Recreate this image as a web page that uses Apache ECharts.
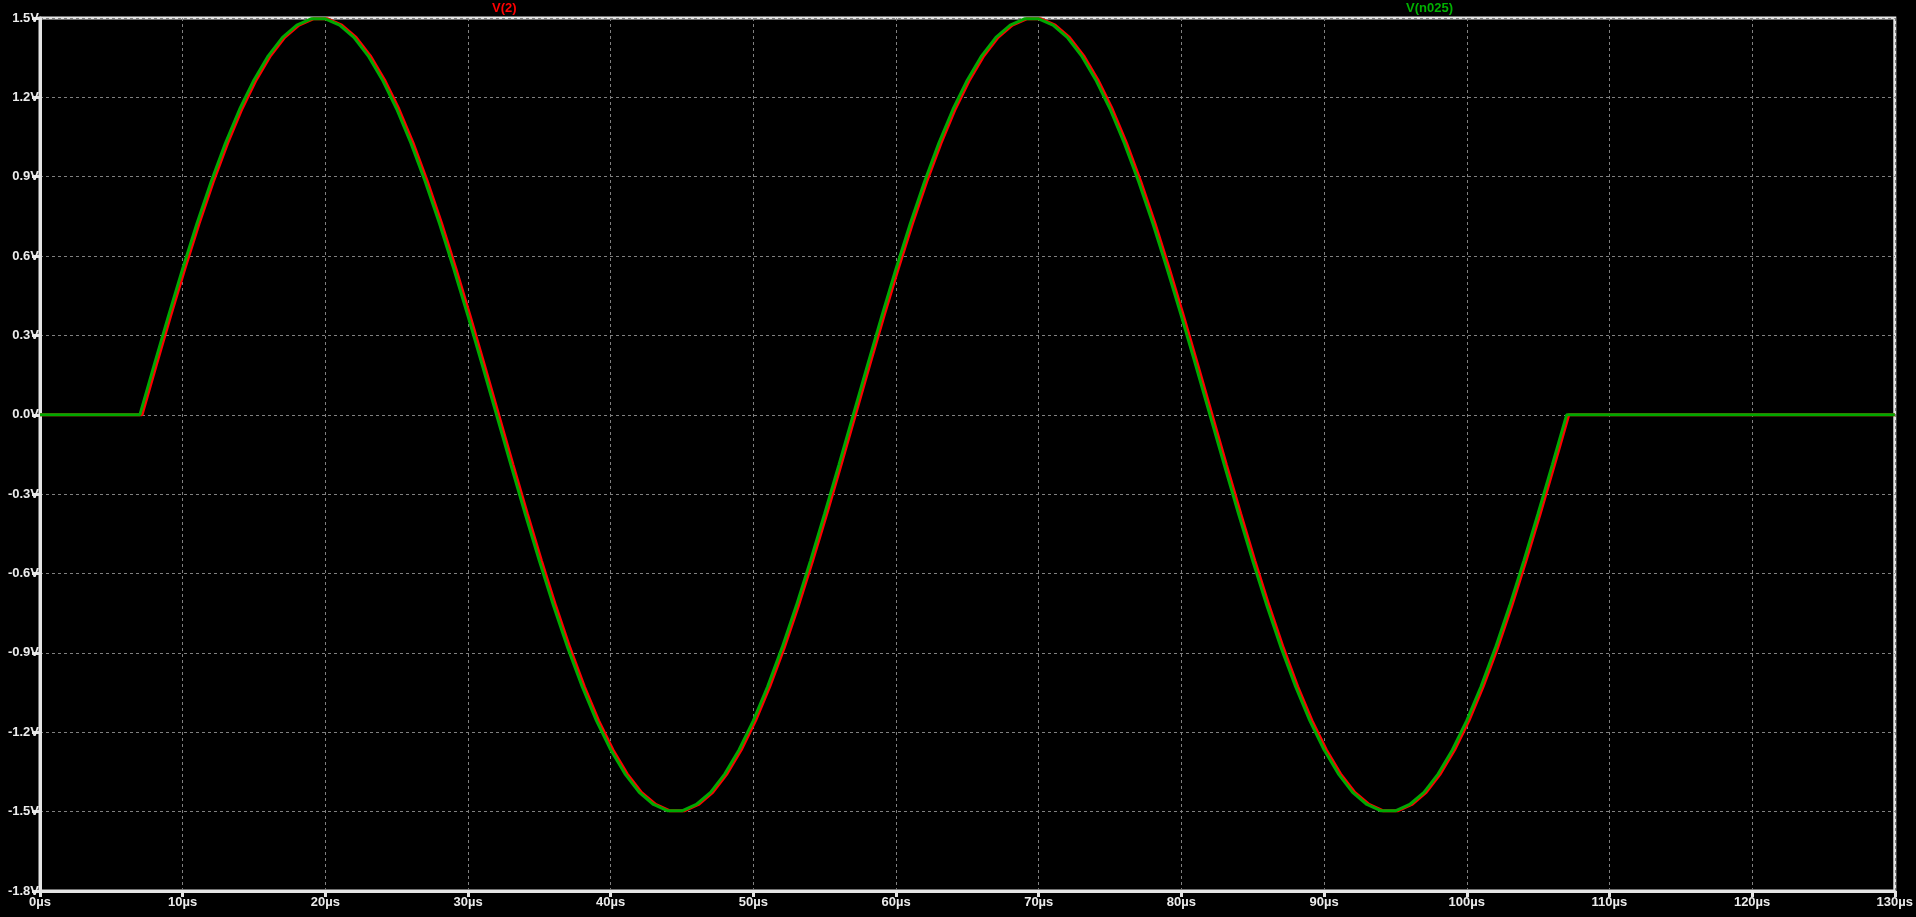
<!DOCTYPE html>
<html>
<head>
<meta charset="utf-8">
<script src="https://cdn.jsdelivr.net/npm/echarts@6/dist/echarts.min.js"></script>
<style>
html,body{margin:0;padding:0;background:#000;}
#chart{width:1916px;height:917px;}
</style>
</head>
<body>
<div id="chart"></div>
<script>
// Sample times (µs) for V(n025)
const timeUs = [0, 7, 8, 9, 10, 11, 12, 13, 14, 15, 16, 17, 18, 19, 20, 21, 22, 23, 24, 25, 26, 27, 28, 29, 30, 31, 32,
  33, 34, 35, 36, 37, 38, 39, 40, 41, 42, 43, 44, 45, 46, 47, 48, 49, 50, 51, 52, 53, 54, 55, 56, 57,
  58, 59, 60, 61, 62, 63, 64, 65, 66, 67, 68, 69, 70, 71, 72, 73, 74, 75, 76, 77, 78, 79, 80, 81, 82,
  83, 84, 85, 86, 87, 88, 89, 90, 91, 92, 93, 94, 95, 96, 97, 98, 99, 100, 101, 102, 103, 104, 105, 106, 107, 130];
// V(n025) values (V)
const vN025 = [0, 0, 0.188, 0.373, 0.552, 0.723, 0.882, 1.027, 1.156, 1.266, 1.357, 1.427, 1.473, 1.497, 1.497, 1.473, 1.427, 1.357, 1.266, 1.156, 1.027, 0.882, 0.723, 0.552, 0.373, 0.188, 0,
  -0.188, -0.373, -0.552, -0.723, -0.882, -1.027, -1.156, -1.266, -1.357, -1.427, -1.473, -1.497, -1.497, -1.473, -1.427, -1.357, -1.266, -1.156, -1.027, -0.882, -0.723, -0.552, -0.373, -0.188, 0,
  0.188, 0.373, 0.552, 0.723, 0.882, 1.027, 1.156, 1.266, 1.357, 1.427, 1.473, 1.497, 1.497, 1.473, 1.427, 1.357, 1.266, 1.156, 1.027, 0.882, 0.723, 0.552, 0.373, 0.188, 0,
  -0.188, -0.373, -0.552, -0.723, -0.882, -1.027, -1.156, -1.266, -1.357, -1.427, -1.473, -1.497, -1.497, -1.473, -1.427, -1.357, -1.266, -1.156, -1.027, -0.882, -0.723, -0.552, -0.373, -0.188, 0, 0];
// V(2) values (V) – same shape, lagging slightly
const v2 = [0, 0, 0.188, 0.373, 0.552, 0.723, 0.882, 1.027, 1.156, 1.266, 1.357, 1.427, 1.473, 1.497, 1.497, 1.473, 1.427, 1.357, 1.266, 1.156, 1.027, 0.882, 0.723, 0.552, 0.373, 0.188, 0,
  -0.188, -0.373, -0.552, -0.723, -0.882, -1.027, -1.156, -1.266, -1.357, -1.427, -1.473, -1.497, -1.497, -1.473, -1.427, -1.357, -1.266, -1.156, -1.027, -0.882, -0.723, -0.552, -0.373, -0.188, 0,
  0.188, 0.373, 0.552, 0.723, 0.882, 1.027, 1.156, 1.266, 1.357, 1.427, 1.473, 1.497, 1.497, 1.473, 1.427, 1.357, 1.266, 1.156, 1.027, 0.882, 0.723, 0.552, 0.373, 0.188, 0,
  -0.188, -0.373, -0.552, -0.723, -0.882, -1.027, -1.156, -1.266, -1.357, -1.427, -1.473, -1.497, -1.497, -1.473, -1.427, -1.357, -1.266, -1.156, -1.027, -0.882, -0.723, -0.552, -0.373, -0.188, 0, 0];
const v2DelayUs = 0.15; // lag of V(2) behind V(n025)

const xMin = 0, xMax = 130, xStep = 10;
const yMin = -1.8, yMax = 1.5, yStep = 0.3;

const greenData = timeUs.map((t, i) => [t, vN025[i]]);
const redData = timeUs.map((t, i) => [(i === 0 || i === timeUs.length - 1) ? t : t + v2DelayUs, v2[i]]);

const axisColor = '#e4e4e4';
const textColor = '#ececec';
const font = 'Liberation Sans';

const chart = echarts.init(document.getElementById('chart'), null, {renderer: 'canvas'});
chart.setOption({
  backgroundColor: '#000000',
  animation: false,
  title: [
    {text: 'V(2)', left: 492, top: 2, textStyle: {color: '#ff0000', fontSize: 13, fontFamily: font, fontWeight: 'bold'}, padding: 0},
    {text: 'V(n025)', left: 1406, top: 2, textStyle: {color: '#00b000', fontSize: 13, fontFamily: font, fontWeight: 'bold'}, padding: 0}
  ],
  grid: {left: 40, right: 21, top: 18, bottom: 26, show: true, borderColor: axisColor, borderWidth: 3, backgroundColor: '#000'},
  xAxis: {
    type: 'value', min: xMin, max: xMax, interval: xStep,
    axisLine: {show: true, onZero: false, lineStyle: {color: axisColor, width: 3}},
    axisTick: {show: true, length: 6, lineStyle: {color: axisColor, width: 3}},
    axisLabel: {color: textColor, fontSize: 13, fontFamily: font, fontWeight: 'bold', margin: 5, formatter: v => Math.round(v) + 'µs'},
    splitLine: {show: true, lineStyle: {color: '#808080', width: 1, type: [3, 3]}}
  },
  yAxis: {
    type: 'value', min: yMin, max: yMax, interval: yStep,
    axisLine: {show: true, onZero: false, lineStyle: {color: axisColor, width: 3}},
    axisTick: {show: true, length: 8, lineStyle: {color: axisColor, width: 3}},
    axisLabel: {color: textColor, fontSize: 13, fontFamily: font, fontWeight: 'bold', margin: 1, formatter: v => {
      let s = (Math.round(v * 10) / 10).toFixed(1);
      if (s === '-0.0') s = '0.0';
      return s + 'V';
    }},
    splitLine: {show: true, lineStyle: {color: '#808080', width: 1, type: [3, 3]}}
  },
  series: [
    {name: 'V(2)', type: 'line', data: redData, showSymbol: false, symbol: 'none', lineStyle: {color: '#ff0000', width: 3}, z: 3},
    {name: 'V(n025)', type: 'line', data: greenData, showSymbol: false, symbol: 'none', lineStyle: {color: '#00a800', width: 3}, z: 4}
  ]
});
</script>
</body>
</html>
